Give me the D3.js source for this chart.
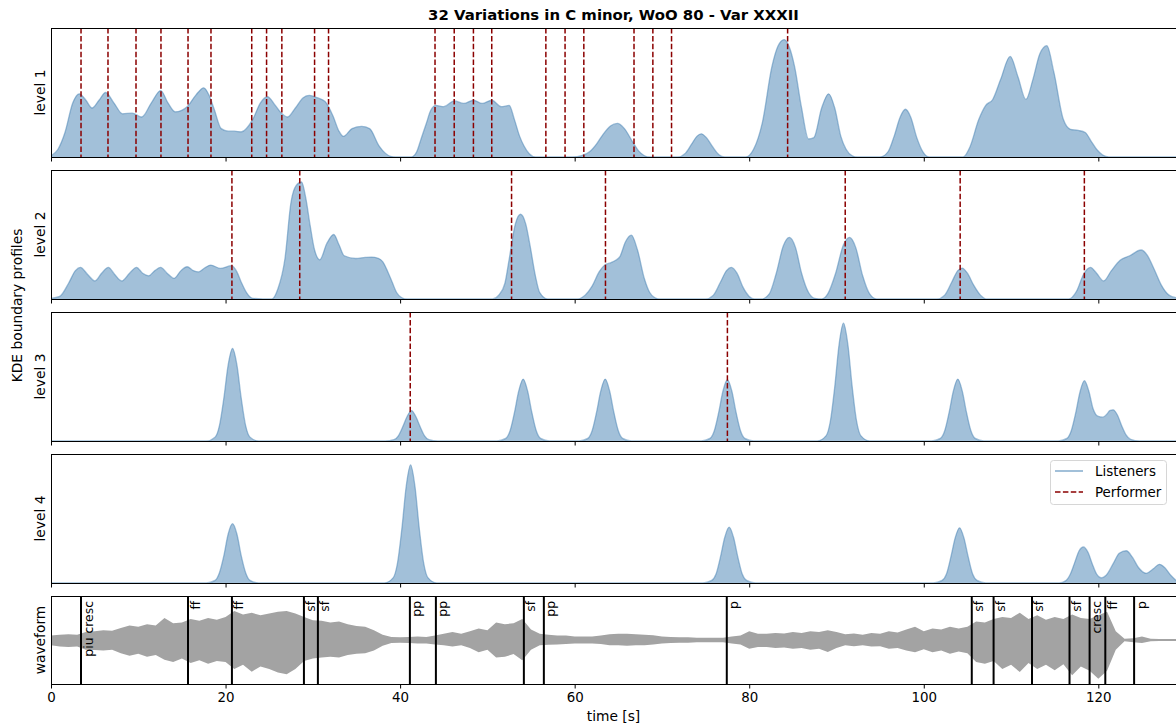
<!DOCTYPE html>
<html>
<head>
<meta charset="utf-8">
<script src="https://cdn.jsdelivr.net/npm/d3@7"></script>
<style>
  html, body { margin: 0; padding: 0; background: #fff; }
  svg { display: block; }
</style>
</head>
<body>
<div id="chart"></div>
<script>
// KDE boundary profiles — listeners vs performer, with waveform + dynamics

const FONT = "'DejaVu Sans', sans-serif";
const KDE_BLUE = '#4682b4';
const PERFORMER_RED = '#8b0000';
const WAVE_GREY = '#a3a3a3';

const TITLE = '32 Variations in C minor, WoO 80 - Var XXXII';
const TIME_MAX = 128.9;
const X_TICKS = [0, 20, 40, 60, 80, 100, 120];
const LEVEL_LABELS = ['level 1', 'level 2', 'level 3', 'level 4'];

// listener KDE profiles, [time s, density as share of panel height]
const level1Profile = [
  [0, 0.01], [0.8, 0.06], [1.6, 0.19], [2.5, 0.42], [3.24, 0.49], [4.0, 0.44], [4.7, 0.38], [5.5, 0.44],
  [6.26, 0.50], [7.2, 0.42], [8.2, 0.335], [9.3, 0.34], [10.4, 0.31], [11.5, 0.42], [12.57, 0.515],
  [13.4, 0.42], [14.24, 0.35], [15.6, 0.39], [16.6, 0.48], [17.5, 0.536], [18.1, 0.48], [18.7, 0.37],
  [19.5, 0.22], [20.3, 0.2], [21.0, 0.2], [21.8, 0.195], [23.1, 0.29], [24.0, 0.42], [24.8, 0.467],
  [25.7, 0.40], [26.4, 0.34], [27.1, 0.31], [28.0, 0.38], [28.9, 0.46], [29.6, 0.477], [30.5, 0.46],
  [31.4, 0.43], [32.3, 0.32], [33.0, 0.2], [33.5, 0.16], [34.5, 0.22], [35.6, 0.237], [36.5, 0.22],
  [37.6, 0.085], [38.3, 0.03], [38.9, 0.005], [39.5, 0], [41.3, 0], [41.9, 0.04], [42.4, 0.14],
  [43.0, 0.26], [43.5, 0.36], [44.1, 0.40], [45.0, 0.39], [46.2, 0.435], [47.3, 0.415], [48.4, 0.44],
  [49.4, 0.415], [50.5, 0.44], [51.6, 0.39], [52.5, 0.40], [53.1, 0.29], [53.7, 0.16], [54.2, 0.085],
  [54.8, 0.025], [55.5, 0], [59.8, 0], [60.8, 0.01], [61.7, 0.04], [62.5, 0.1], [63.2, 0.17],
  [64.1, 0.24], [64.9, 0.26], [65.7, 0.22], [66.7, 0.11], [67.3, 0.05], [68.0, 0.01], [68.6, 0],
  [71.8, 0], [72.7, 0.03], [73.4, 0.1], [74.0, 0.16], [74.5, 0.18], [75.1, 0.15], [75.8, 0.08],
  [76.5, 0.02], [77.2, 0], [79.6, 0], [80.5, 0.06], [81.5, 0.265], [82.6, 0.70], [83.3, 0.86],
  [84.0, 0.91], [84.6, 0.85], [85.2, 0.70], [86.0, 0.38], [86.8, 0.14], [87.4, 0.15], [88.3, 0.38],
  [89.1, 0.49], [89.8, 0.38], [90.5, 0.16], [91.1, 0.06], [91.8, 0.01], [92.4, 0], [95.0, 0],
  [95.9, 0.04], [96.6, 0.16], [97.3, 0.31], [97.9, 0.37], [98.5, 0.31], [99.2, 0.15], [99.9, 0.04],
  [100.6, 0], [104.5, 0], [105.3, 0.08], [106.3, 0.29], [107.1, 0.40], [107.9, 0.446], [108.8, 0.60],
  [109.9, 0.78], [110.8, 0.62], [111.7, 0.446], [112.5, 0.60], [113.3, 0.80], [114.1, 0.863],
  [114.9, 0.66], [116.0, 0.29], [116.8, 0.215], [117.7, 0.206], [118.5, 0.19], [119.2, 0.12],
  [119.8, 0.06], [120.5, 0.015], [121.2, 0], [128.9, 0]
];

const level2Profile = [
  [0, 0.005], [1.0, 0.02], [2.0, 0.12], [2.8, 0.22], [3.37, 0.245], [4.2, 0.19], [5.03, 0.14], [5.8, 0.2],
  [6.57, 0.245], [7.3, 0.19], [8.1, 0.14], [9.0, 0.2], [9.8, 0.245], [10.5, 0.2], [11.2, 0.18],
  [11.9, 0.22], [12.57, 0.245], [13.3, 0.2], [14.1, 0.16], [14.9, 0.22], [15.6, 0.25], [16.3, 0.22],
  [16.9, 0.21], [17.6, 0.24], [18.3, 0.263], [19.4, 0.237], [20.7, 0.258], [21.3, 0.21], [21.8, 0.13],
  [22.4, 0.05], [23.1, 0.005], [25.3, 0], [26.0, 0.08], [26.8, 0.31], [27.5, 0.75], [28.1, 0.88],
  [28.7, 0.907], [29.2, 0.78], [29.7, 0.567], [30.2, 0.38], [30.8, 0.304], [31.6, 0.43], [32.4, 0.50],
  [33.0, 0.42], [33.6, 0.335], [34.9, 0.314], [36.0, 0.322], [36.7, 0.325], [37.5, 0.315], [38.0, 0.29],
  [38.6, 0.21], [39.1, 0.13], [39.6, 0.05], [40.2, 0.01], [40.8, 0], [50.6, 0], [51.3, 0.03],
  [52.0, 0.12], [52.5, 0.31], [53.2, 0.58], [53.8, 0.657], [54.4, 0.58], [54.9, 0.41], [55.5, 0.18],
  [56.0, 0.05], [56.9, 0], [60.3, 0], [61.2, 0.03], [62.0, 0.10], [62.8, 0.21], [63.5, 0.265],
  [64.1, 0.28], [64.7, 0.30], [65.2, 0.33], [65.8, 0.44], [66.5, 0.495], [67.2, 0.38], [68.0, 0.155],
  [68.6, 0.05], [69.2, 0.01], [69.8, 0], [75.0, 0], [75.9, 0.03], [76.7, 0.13], [77.4, 0.22],
  [77.95, 0.245], [78.6, 0.2], [79.3, 0.09], [80.0, 0.02], [80.6, 0], [81.4, 0], [82.3, 0.04],
  [83.1, 0.2], [83.9, 0.41], [84.6, 0.477], [85.3, 0.40], [86.0, 0.2], [86.8, 0.05], [87.5, 0.005],
  [88.3, 0], [89.0, 0.04], [89.9, 0.2], [90.8, 0.42], [91.5, 0.477], [92.2, 0.40], [93.0, 0.18],
  [93.8, 0.04], [94.6, 0], [101.5, 0], [102.4, 0.03], [103.2, 0.13], [103.9, 0.22], [104.4, 0.24],
  [105.0, 0.2], [105.7, 0.11], [106.5, 0.03], [107.2, 0], [116.6, 0], [117.5, 0.06], [118.3, 0.19],
  [119.1, 0.245], [119.8, 0.2], [120.6, 0.14], [121.5, 0.22], [122.5, 0.30], [123.6, 0.335],
  [124.9, 0.38], [125.6, 0.34], [126.4, 0.23], [127.2, 0.11], [128.1, 0.03], [128.9, 0.01]
];

const level3Profile = [
  [0, 0], [17.8, 0], [18.8, 0.03], [19.3, 0.12], [19.8, 0.33], [20.3, 0.59], [20.8, 0.717], [21.3, 0.59],
  [21.8, 0.33], [22.3, 0.12], [22.8, 0.03], [23.8, 0],
  [38.3, 0], [39.3, 0.01], [39.8, 0.04], [40.3, 0.11], [40.8, 0.19], [41.3, 0.236], [41.8, 0.19],
  [42.3, 0.11], [42.8, 0.04], [43.3, 0.01], [44.3, 0],
  [51.1, 0], [52.1, 0.02], [52.6, 0.08], [53.1, 0.22], [53.6, 0.39], [54.1, 0.48], [54.6, 0.39],
  [55.1, 0.22], [55.6, 0.08], [56.1, 0.02], [57.1, 0],
  [60.5, 0], [61.5, 0.02], [62.0, 0.08], [62.5, 0.22], [63.0, 0.39], [63.5, 0.48], [64.0, 0.39],
  [64.5, 0.22], [65.0, 0.08], [65.5, 0.02], [66.5, 0],
  [74.5, 0], [75.5, 0.02], [76.0, 0.08], [76.5, 0.22], [77.0, 0.39], [77.5, 0.475], [78.0, 0.39],
  [78.5, 0.22], [79.0, 0.08], [79.5, 0.02], [80.5, 0],
  [87.8, 0], [88.8, 0.04], [89.3, 0.155], [89.8, 0.42], [90.3, 0.75], [90.8, 0.913], [91.3, 0.75],
  [91.8, 0.42], [92.3, 0.155], [92.8, 0.04], [93.8, 0],
  [100.9, 0], [101.9, 0.02], [102.4, 0.08], [102.9, 0.22], [103.4, 0.39], [103.9, 0.48], [104.4, 0.39],
  [104.9, 0.22], [105.4, 0.08], [105.9, 0.02], [106.9, 0],
  [115.4, 0], [116.4, 0.02], [116.9, 0.08], [117.4, 0.215], [117.9, 0.38], [118.4, 0.468], [118.9, 0.39],
  [119.4, 0.25], [120.0, 0.19], [120.5, 0.185], [121.0, 0.21], [121.3, 0.235], [121.7, 0.242],
  [122.2, 0.2], [122.7, 0.115], [123.2, 0.045], [123.7, 0.012], [124.7, 0], [128.9, 0]
];

const level4Profile = [
  [0, 0], [17.8, 0], [18.8, 0.02], [19.3, 0.08], [19.8, 0.21], [20.3, 0.38], [20.8, 0.46], [21.3, 0.38],
  [21.8, 0.21], [22.3, 0.08], [22.8, 0.02], [23.8, 0],
  [38.2, 0], [39.2, 0.04], [39.7, 0.155], [40.2, 0.42], [40.7, 0.75], [41.2, 0.915], [41.7, 0.75],
  [42.2, 0.42], [42.7, 0.155], [43.2, 0.04], [44.2, 0],
  [74.7, 0], [75.7, 0.02], [76.2, 0.07], [76.7, 0.2], [77.2, 0.355], [77.7, 0.433], [78.2, 0.355],
  [78.7, 0.2], [79.2, 0.07], [79.7, 0.02], [80.7, 0],
  [101.1, 0], [102.1, 0.02], [102.6, 0.07], [103.1, 0.2], [103.6, 0.35], [104.1, 0.428], [104.6, 0.35],
  [105.1, 0.2], [105.6, 0.07], [106.1, 0.02], [107.1, 0],
  [115.5, 0], [116.3, 0.02], [116.8, 0.07], [117.3, 0.16], [117.8, 0.25], [118.3, 0.28], [118.8, 0.24],
  [119.3, 0.15], [119.8, 0.07], [120.35, 0.04], [120.9, 0.06], [121.7, 0.15], [122.4, 0.23],
  [123.2, 0.25], [123.9, 0.2], [124.6, 0.12], [125.5, 0.075], [126.3, 0.11], [127.0, 0.145],
  [127.6, 0.12], [128.3, 0.06], [128.9, 0.02]
];

// performer boundaries (s) per level
const performer1 = [0, 3.44, 6.53, 9.74, 12.6, 15.7, 18.33, 23.0, 24.7, 26.45, 30.2, 31.8, 44.0, 46.2,
  48.4, 50.5, 56.7, 58.9, 61.05, 66.8, 68.96, 71.1, 84.4];
const performer2 = [20.73, 28.5, 52.77, 63.53, 91.0, 104.17, 118.4];
const performer3 = [41.16, 77.5];
const performer4 = [];

// waveform envelope, 1 s steps from t = 0 (upper / lower magnitude, 1 = panel half-height)
const waveUpper = [
  0.10, 0.12, 0.13, 0.12, 0.18, 0.20, 0.22, 0.21, 0.27, 0.33, 0.30, 0.36, 0.33, 0.50, 0.38, 0.40,
  0.48, 0.44, 0.50, 0.46, 0.52, 0.66, 0.58, 0.62, 0.56, 0.60, 0.64, 0.66, 0.60, 0.52, 0.45, 0.44,
  0.40, 0.42, 0.36, 0.32, 0.30, 0.22, 0.12, 0.07, 0.06, 0.07, 0.08, 0.07, 0.10, 0.14, 0.18, 0.14,
  0.20, 0.26, 0.22, 0.40, 0.36, 0.38, 0.48, 0.24, 0.14, 0.12, 0.10, 0.10, 0.08, 0.08, 0.08, 0.10,
  0.13, 0.14, 0.14, 0.13, 0.12, 0.11, 0.08, 0.07, 0.06, 0.06, 0.05, 0.05, 0.05, 0.05, 0.08, 0.10,
  0.20, 0.14, 0.14, 0.16, 0.15, 0.18, 0.16, 0.20, 0.18, 0.22, 0.18, 0.13, 0.15, 0.12, 0.16, 0.14,
  0.20, 0.17, 0.24, 0.30, 0.20, 0.26, 0.24, 0.30, 0.26, 0.30, 0.42, 0.40, 0.48, 0.52, 0.50, 0.62,
  0.48, 0.56, 0.46, 0.52, 0.48, 0.58, 0.50, 0.48, 0.56, 0.64, 0.20, 0.03, 0.04, 0.08, 0.03, 0.02,
  0.02, 0.02
];
const waveLower = [
  0.12, 0.15, 0.16, 0.15, 0.22, 0.23, 0.24, 0.22, 0.30, 0.36, 0.31, 0.38, 0.34, 0.45, 0.50, 0.42,
  0.52, 0.46, 0.54, 0.48, 0.50, 0.66, 0.56, 0.72, 0.60, 0.66, 0.74, 0.78, 0.66, 0.48, 0.42, 0.40,
  0.38, 0.40, 0.34, 0.31, 0.30, 0.24, 0.13, 0.07, 0.06, 0.07, 0.08, 0.08, 0.10, 0.12, 0.15, 0.12,
  0.18, 0.28, 0.22, 0.40, 0.38, 0.32, 0.46, 0.22, 0.12, 0.11, 0.10, 0.09, 0.08, 0.08, 0.08, 0.09,
  0.12, 0.12, 0.13, 0.12, 0.12, 0.10, 0.08, 0.07, 0.06, 0.06, 0.05, 0.05, 0.05, 0.05, 0.08, 0.10,
  0.20, 0.16, 0.16, 0.18, 0.17, 0.20, 0.18, 0.22, 0.20, 0.27, 0.18, 0.12, 0.14, 0.12, 0.15, 0.14,
  0.20, 0.18, 0.24, 0.28, 0.21, 0.28, 0.24, 0.31, 0.26, 0.30, 0.50, 0.54, 0.48, 0.66, 0.56, 0.73,
  0.52, 0.66, 0.56, 0.69, 0.55, 0.80, 0.60, 0.70, 0.88, 0.70, 0.22, 0.03, 0.05, 0.07, 0.03, 0.02,
  0.02, 0.02
];

// dynamics markings on the waveform
const markTimes = [3.44, 15.7, 20.73, 28.98, 30.58, 41.12, 44.1, 54.18, 56.47, 77.43, 105.5, 108.0,
  112.4, 116.7, 119.0, 120.8, 124.1];
const markLabels = ['piu cresc', 'ff', 'ff', 'sf', 'sf', 'pp', 'pp', 'sf', 'pp', 'p', 'sf', 'sf',
  'sf', 'sf', 'cresc', 'ff', 'p'];

// ------------------------------------------------------------
const W = 1176, H = 725;
const left = 51, right = 1176;
const LABEL_SIZE = '13.8px';
const TICK_SIZE = '13.4px';
const panels = [
  { top: 28, bottom: 157 },
  { top: 170, bottom: 299 },
  { top: 312, bottom: 441 },
  { top: 454, bottom: 583 },
  { top: 596, bottom: 684 }
];
const profiles = [level1Profile, level2Profile, level3Profile, level4Profile];
const performers = [performer1, performer2, performer3, performer4];

const svg = d3.select('#chart').append('svg')
  .attr('width', W).attr('height', H)
  .style('font-family', FONT);

const x = d3.scaleLinear().domain([0, TIME_MAX]).range([left, right]);

svg.append('text')
  .attr('x', (left + right) / 2).attr('y', 19.5)
  .attr('text-anchor', 'middle')
  .style('font-size', '14.9px').style('font-weight', 'bold')
  .text(TITLE);

const defs = svg.append('defs');
panels.forEach((p, i) => {
  defs.append('clipPath').attr('id', 'clip' + i)
    .append('rect').attr('x', left).attr('y', p.top)
    .attr('width', right - left).attr('height', p.bottom - p.top);
});

function drawXAxis(p, withLabels) {
  const ax = svg.append('g')
    .attr('transform', `translate(0,${p.bottom})`)
    .call(d3.axisBottom(x).tickValues(X_TICKS).tickSize(4.5).tickPadding(4)
      .tickFormat(withLabels ? d3.format('d') : ''));
  ax.select('.domain').remove();
  ax.selectAll('line').attr('stroke', '#000').attr('stroke-width', 1);
  ax.selectAll('text').style('font-family', FONT).style('font-size', TICK_SIZE).attr('fill', '#000');
}

function drawFrame(p) {
  svg.append('rect')
    .attr('x', left + 0.5).attr('y', p.top + 0.5)
    .attr('width', right - left).attr('height', p.bottom - p.top)
    .attr('fill', 'none').attr('stroke', '#000').attr('stroke-width', 1);
}

// KDE panels
profiles.forEach((prof, i) => {
  const p = panels[i];
  const y = d3.scaleLinear().domain([0, 1]).range([p.bottom, p.top]);
  const g = svg.append('g').attr('clip-path', `url(#clip${i})`);

  const area = d3.area()
    .x(d => x(d[0])).y0(y(0)).y1(d => y(d[1]))
    .curve(d3.curveMonotoneX);
  const line = d3.line()
    .x(d => x(d[0])).y(d => y(d[1]))
    .curve(d3.curveMonotoneX);

  g.append('path').datum(prof)
    .attr('d', area)
    .attr('fill', KDE_BLUE).attr('fill-opacity', 0.5);
  g.append('path').datum(prof)
    .attr('d', line)
    .attr('fill', 'none')
    .attr('stroke', KDE_BLUE).attr('stroke-opacity', 0.5).attr('stroke-width', 1.3);

  g.selectAll('.perf')
    .data(performers[i])
    .join('line')
    .attr('class', 'perf')
    .attr('x1', d => x(d)).attr('x2', d => x(d))
    .attr('y1', p.top).attr('y2', p.bottom)
    .attr('stroke', PERFORMER_RED).attr('stroke-width', 1.5)
    .attr('stroke-dasharray', '5.5,2.4');

  drawFrame(p);
  drawXAxis(p, false);

  svg.append('text')
    .attr('transform', `translate(45,${(p.top + p.bottom) / 2}) rotate(-90)`)
    .attr('text-anchor', 'middle')
    .style('font-size', LABEL_SIZE)
    .text(LEVEL_LABELS[i]);
});

svg.append('text')
  .attr('transform', `translate(22,${(panels[0].top + panels[3].bottom) / 2}) rotate(-90)`)
  .attr('text-anchor', 'middle')
  .style('font-size', LABEL_SIZE)
  .text('KDE boundary profiles');

// legend in level 4
{
  const lg = svg.append('g').attr('transform', 'translate(1050,460)');
  lg.append('rect')
    .attr('x', 0.5).attr('y', 0.5).attr('width', 116).attr('height', 44).attr('rx', 3)
    .attr('fill', '#fff').attr('fill-opacity', 0.8)
    .attr('stroke', '#d6d6d6').attr('stroke-width', 1);
  lg.append('line')
    .attr('x1', 5).attr('x2', 33).attr('y1', 11).attr('y2', 11)
    .attr('stroke', KDE_BLUE).attr('stroke-opacity', 0.5).attr('stroke-width', 2);
  lg.append('line')
    .attr('x1', 5).attr('x2', 33).attr('y1', 32).attr('y2', 32)
    .attr('stroke', PERFORMER_RED).attr('stroke-width', 1.5).attr('stroke-dasharray', '5.5,2.4');
  lg.append('text').attr('x', 45).attr('y', 16).style('font-size', TICK_SIZE).text('Listeners');
  lg.append('text').attr('x', 45).attr('y', 37).style('font-size', TICK_SIZE).text('Performer');
}

// waveform panel
{
  const p = panels[4];
  const mid = (p.top + p.bottom) / 2;
  const y = d3.scaleLinear().domain([-1, 1]).range([p.bottom, p.top]);
  const g = svg.append('g').attr('clip-path', 'url(#clip4)');
  const env = waveUpper.map((u, k) => ({ t: k, u, l: waveLower[k] }));

  g.append('path').datum(env)
    .attr('d', d3.area().x(d => x(d.t)).y0(d => y(-d.l)).y1(d => y(d.u)))
    .attr('fill', WAVE_GREY);

  g.selectAll('.mark')
    .data(markTimes)
    .join('line')
    .attr('class', 'mark')
    .attr('x1', d => x(d)).attr('x2', d => x(d))
    .attr('y1', p.top).attr('y2', p.bottom)
    .attr('stroke', '#000').attr('stroke-width', 2);

  g.selectAll('.mark-label')
    .data(markTimes)
    .join('text')
    .attr('class', 'mark-label')
    .attr('transform', d => `translate(${x(d) + 11.5},${p.top + 5}) rotate(-90)`)
    .attr('text-anchor', 'end')
    .style('font-size', '12.4px')
    .text((d, k) => markLabels[k]);

  drawFrame(p);
  drawXAxis(p, true);

  svg.append('text')
    .attr('transform', `translate(45,${mid}) rotate(-90)`)
    .attr('text-anchor', 'middle')
    .style('font-size', LABEL_SIZE)
    .text('waveform');

  svg.append('text')
    .attr('x', (left + right) / 2).attr('y', 721)
    .attr('text-anchor', 'middle')
    .style('font-size', LABEL_SIZE)
    .text('time [s]');
}
</script>
</body>
</html>
